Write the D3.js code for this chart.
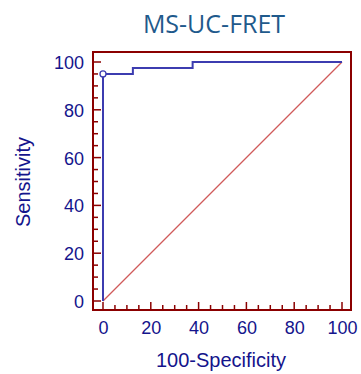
<!DOCTYPE html>
<html>
<head>
<meta charset="utf-8">
<script src="https://cdn.jsdelivr.net/npm/d3@7"></script>
<style>
  body { margin: 0; background: #fff; }
  svg { display: block; }
</style>
</head>
<body>
<div id="chart"></div>
<script>
// ROC curve, MS-UC-FRET
var title = "MS-UC-FRET";
var xLabel = "100-Specificity";
var yLabel = "Sensitivity";
var fpr = [0, 0, 12.5, 12.5, 37.5, 37.5, 100];   // 100-Specificity
var tpr = [0, 95, 95, 97.5, 97.5, 100, 100];     // Sensitivity
var markerPoint = [0, 95];
var tickValues = [0, 20, 40, 60, 80, 100];
var minorTicks = d3.range(0, 101, 5);

var width = 361, height = 374;
var box = {left: 93, right: 351, top: 52, bottom: 310};

var x = d3.scaleLinear().domain([0, 100]).range([103, 342]);
var y = d3.scaleLinear().domain([0, 100]).range([301, 62]);

var axisColor = "#8b0000",
	textColor = "#14148c",
	lineColor = "#3c3cb0";

var svg = d3.select("#chart").append("svg")
	.attr("width", width)
	.attr("height", height);

svg.append("text")
	.attr("x", 214)
	.attr("y", 33)
	.attr("text-anchor", "middle")
	.style("font-family", "'Open Sans', sans-serif")
	.style("font-size", "25px")
	.style("fill", "#1f5a8c")
	.text(title);

// minor ticks (inward)
var gTicks = svg.append("g").attr("stroke", axisColor).attr("stroke-width", 1.5);
gTicks.selectAll(".ym").data(minorTicks).enter().append("line")
	.attr("x1", box.left).attr("x2", function(d) { return box.left + (d % 20 == 0 ? 8 : 5); })
	.attr("y1", function(d) { return y(d); }).attr("y2", function(d) { return y(d); });
gTicks.selectAll(".xm").data(minorTicks).enter().append("line")
	.attr("y1", box.bottom).attr("y2", function(d) { return box.bottom - (d % 20 == 0 ? 8 : 5); })
	.attr("x1", function(d) { return x(d); }).attr("x2", function(d) { return x(d); });

// tick labels via axes without lines
var yAxis = svg.append("g")
	.attr("transform", "translate(" + (box.left - 9) + ",0)")
	.call(d3.axisLeft(y).tickValues(tickValues).tickSize(0).tickPadding(0));
var xAxis = svg.append("g")
	.attr("transform", "translate(0," + (box.bottom + 8) + ")")
	.call(d3.axisBottom(x).tickValues(tickValues).tickSize(0).tickPadding(0));
[yAxis, xAxis].forEach(function(a) {
	a.select(".domain").remove();
	a.selectAll("text")
		.style("font-family", "'Liberation Sans', Arial, sans-serif")
		.style("font-size", "18px")
		.style("fill", textColor);
});
yAxis.selectAll("text").attr("dy", "0.36em");
xAxis.selectAll("text").attr("dy", "0.9em");

// diagonal reference
svg.append("line")
	.attr("x1", x(0)).attr("y1", y(0))
	.attr("x2", x(100)).attr("y2", y(100))
	.attr("stroke", "#d05a5a")
	.attr("stroke-width", 1.3);

// ROC step line
var pts = fpr.map(function(d, i) { return [d, tpr[i]]; });
svg.append("path")
	.datum(pts)
	.attr("d", d3.line().x(function(d) { return x(d[0]); }).y(function(d) { return y(d[1]); }))
	.attr("fill", "none")
	.attr("stroke", lineColor)
	.attr("stroke-width", 2);

svg.append("circle")
	.attr("cx", x(markerPoint[0]))
	.attr("cy", y(markerPoint[1]))
	.attr("r", 3)
	.attr("fill", "#fff")
	.attr("stroke", lineColor)
	.attr("stroke-width", 1.3);

// frame
svg.append("rect")
	.attr("x", box.left).attr("y", box.top)
	.attr("width", box.right - box.left).attr("height", box.bottom - box.top)
	.attr("fill", "none")
	.attr("stroke", axisColor)
	.attr("stroke-width", 2);

svg.append("text")
	.attr("x", 221)
	.attr("y", 367)
	.attr("text-anchor", "middle")
	.style("font-family", "'Liberation Sans', Arial, sans-serif")
	.style("font-size", "20px")
	.style("fill", textColor)
	.text(xLabel);

svg.append("text")
	.attr("transform", "translate(30," + 182 + ") rotate(-90)")
	.attr("text-anchor", "middle")
	.style("font-family", "'Liberation Sans', Arial, sans-serif")
	.style("font-size", "20px")
	.style("fill", textColor)
	.text(yLabel);
</script>
</body>
</html>
